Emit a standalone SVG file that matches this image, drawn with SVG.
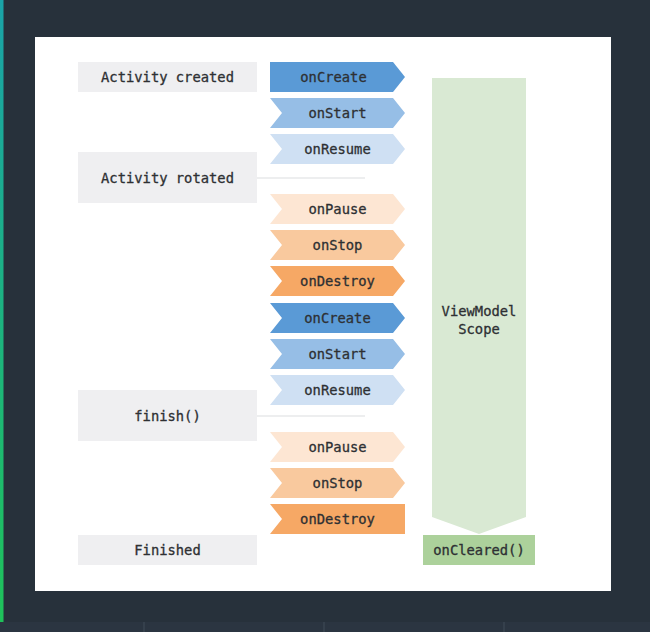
<svg xmlns="http://www.w3.org/2000/svg" width="650" height="632" viewBox="0 0 650 632">
<defs>
<linearGradient id="strip" x1="0" y1="0" x2="0" y2="1">
<stop offset="0" stop-color="#1aa3a8"/>
<stop offset="1" stop-color="#1fc25a"/>
</linearGradient>
<style>
.lbl{fill:#efeff1}
.t{font-family:"DejaVu Sans Mono","Liberation Mono",monospace;font-size:13.8px;fill:#2e3033;stroke:#2e3033;stroke-width:0.3;text-anchor:middle}
.c1{fill:#5a9ad6}.c2{fill:#96bee6}.c3{fill:#cfe0f3}
.p1{fill:#fde6d3}.p2{fill:#f9c99e}.p3{fill:#f6a865}
.conn{stroke:#dcdde0;stroke-width:1.2;fill:none}
</style>
</defs>
<rect width="650" height="632" fill="#27313b"/>
<rect x="0" y="622" width="650" height="10" fill="#2b3541"/>
<g stroke="#3a4550" stroke-width="1.5">
<line x1="144" y1="622" x2="144" y2="632"/>
<line x1="324" y1="622" x2="324" y2="632"/>
<line x1="504" y1="622" x2="504" y2="632"/>
</g>
<rect x="0" y="0" width="3.5" height="622" fill="url(#strip)"/>
<rect x="35" y="37" width="576" height="554" fill="#ffffff"/>

<g id="connectors">
<line class="conn" x1="257" y1="178" x2="365" y2="178"/>
<line class="conn" x1="257" y1="416" x2="365" y2="416"/>
</g>

<g id="activity-created"><rect class="lbl" x="78" y="62" width="179" height="30"/><text class="t" x="167.5" y="82">Activity created</text></g>
<g id="activity-rotated"><rect class="lbl" x="78" y="152" width="179" height="51"/><text class="t" x="167.5" y="183">Activity rotated</text></g>
<g id="finish"><rect class="lbl" x="78" y="390" width="179" height="51"/><text class="t" x="167.5" y="421">finish()</text></g>
<g id="finished"><rect class="lbl" x="78" y="535" width="179" height="30"/><text class="t" x="167.5" y="555">Finished</text></g>

<g id="oncreate-1"><path class="c1" d="M270,62H393L405,77L393,92H270Z"/><text class="t" x="333.5" y="82">onCreate</text></g>
<g id="onstart-1"><path class="c2" d="M270,98H393L405,113L393,128H270L282,113Z"/><text class="t" x="337.5" y="118">onStart</text></g>
<g id="onresume-1"><path class="c3" d="M270,134H393L405,149L393,164H270L282,149Z"/><text class="t" x="337.5" y="154">onResume</text></g>
<g id="onpause-1"><path class="p1" d="M270,194H393L405,209L393,224H270L282,209Z"/><text class="t" x="337.5" y="214">onPause</text></g>
<g id="onstop-1"><path class="p2" d="M270,230H393L405,245L393,260H270L282,245Z"/><text class="t" x="337.5" y="250">onStop</text></g>
<g id="ondestroy-1"><path class="p3" d="M270,266H393L405,281L393,296H270L282,281Z"/><text class="t" x="337.5" y="286">onDestroy</text></g>
<g id="oncreate-2"><path class="c1" d="M270,303H393L405,318L393,333H270L282,318Z"/><text class="t" x="337.5" y="323">onCreate</text></g>
<g id="onstart-2"><path class="c2" d="M270,339H393L405,354L393,369H270L282,354Z"/><text class="t" x="337.5" y="359">onStart</text></g>
<g id="onresume-2"><path class="c3" d="M270,375H393L405,390L393,405H270L282,390Z"/><text class="t" x="337.5" y="395">onResume</text></g>
<g id="onpause-2"><path class="p1" d="M270,432H393L405,447L393,462H270L282,447Z"/><text class="t" x="337.5" y="452">onPause</text></g>
<g id="onstop-2"><path class="p2" d="M270,468H393L405,483L393,498H270L282,483Z"/><text class="t" x="337.5" y="488">onStop</text></g>
<g id="ondestroy-2"><path class="p3" d="M270,504H405V534H270L282,519Z"/><text class="t" x="337.5" y="524">onDestroy</text></g>

<g id="viewmodel-scope"><path fill="#d9e9d3" d="M432,78H526V517L479,534L432,517Z"/><text class="t" x="479" y="316">ViewModel</text><text class="t" x="479" y="334">Scope</text></g>
<g id="oncleared"><rect x="423" y="535" width="112" height="30" fill="#acd19b"/><text class="t" x="479" y="555">onCleared()</text></g>
</svg>
